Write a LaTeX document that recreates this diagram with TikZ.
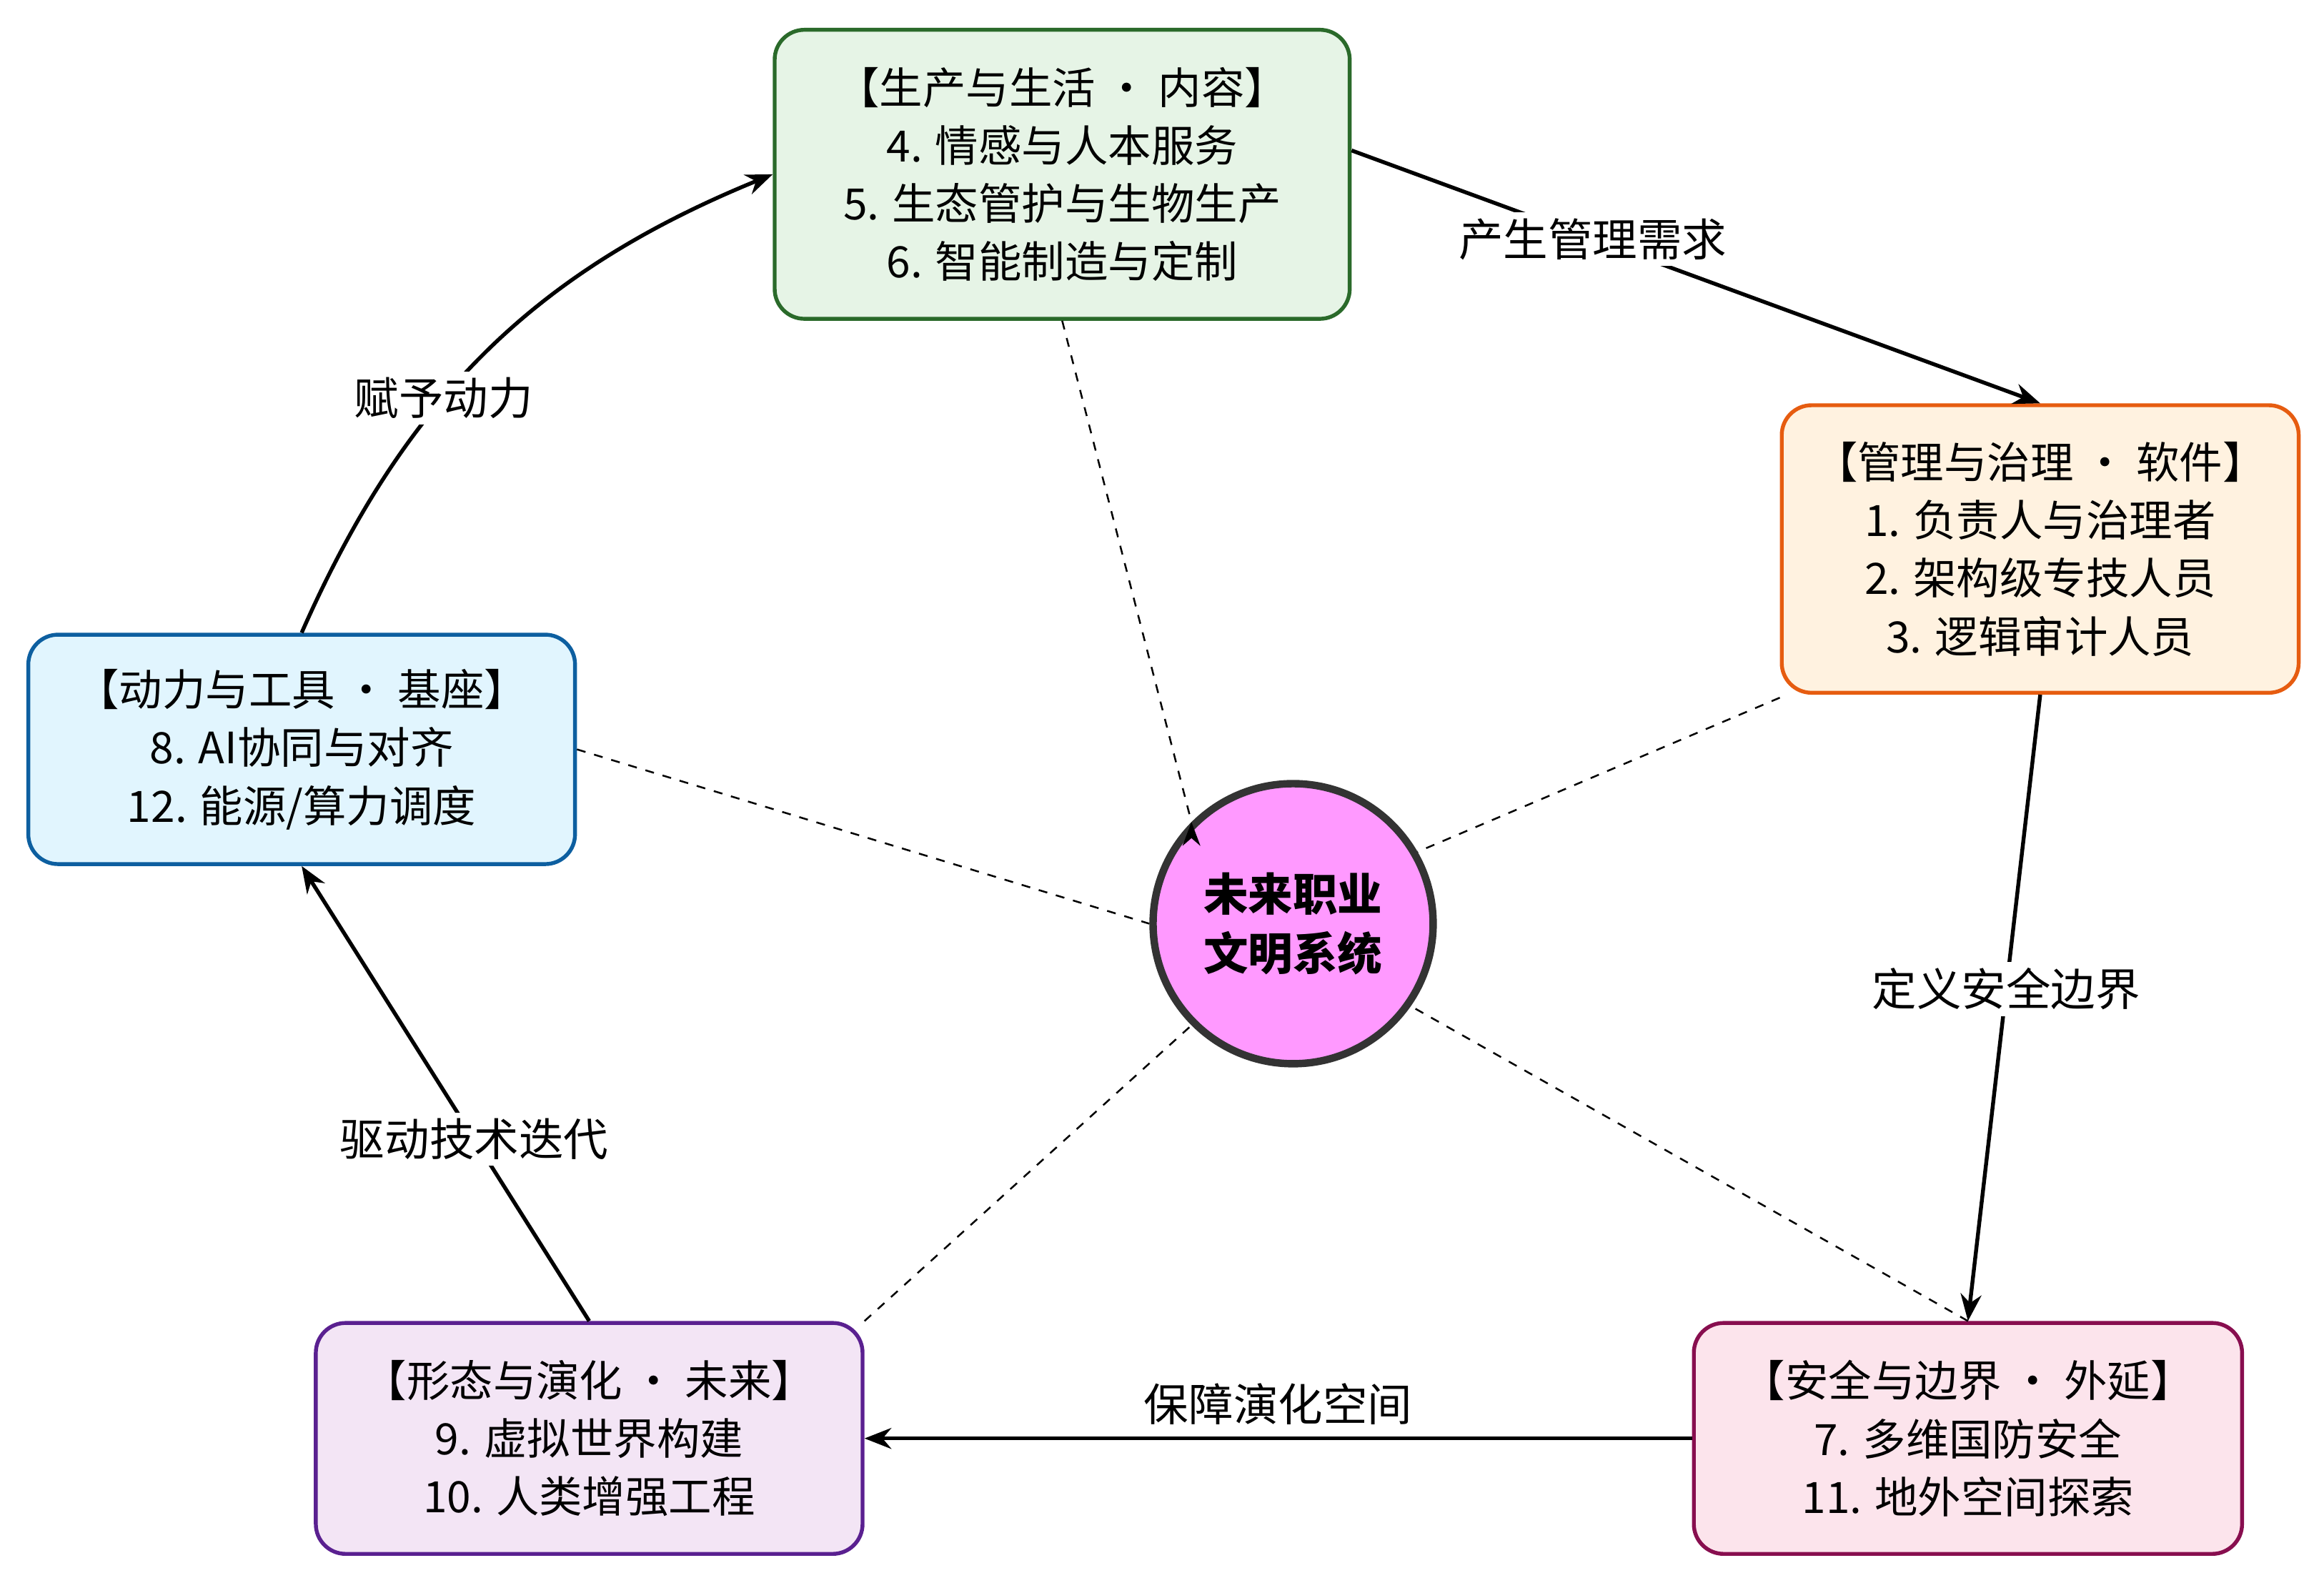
\documentclass[tikz,border=0pt]{standalone}
\usepackage{fontspec}
\setmainfont{Noto Sans CJK SC}
\usetikzlibrary{arrows.meta,calc}
\definecolor{gfill}{HTML}{E6F4E6}\definecolor{gdraw}{HTML}{2A6A2A}
\definecolor{ofill}{HTML}{FFF2E0}\definecolor{odraw}{HTML}{E65C10}
\definecolor{bfill}{HTML}{E1F5FE}\definecolor{bdraw}{HTML}{0D5FA0}
\definecolor{pufill}{HTML}{F3E5F5}\definecolor{pudraw}{HTML}{5A2090}
\definecolor{pkfill}{HTML}{FCE4EC}\definecolor{pkdraw}{HTML}{880E4F}
\definecolor{cfill}{HTML}{FF99FF}\definecolor{cdraw}{HTML}{333333}
\begin{document}
\begin{tikzpicture}[x=0.5pt,y=-0.5pt,
 box/.style={rectangle,rounded corners=10pt,line width=1.3pt,align=center,font=\fontsize{14.5}{19.5}\selectfont,inner sep=0pt},
 arr/.style={line width=1.3pt,-{Stealth[length=9pt,width=7pt]}},
 dsh/.style={dashed,line width=0.6pt},
 lab/.style={fill=white,font=\fontsize{15}{18}\selectfont,inner sep=2pt}]
\useasboundingbox (0,0) rectangle (1560,1059);
\node[box,fill=gfill,draw=gdraw,minimum width=193pt,minimum height=97pt] (g) at (713,117) {【生产与生活 · 内容】\\4. 情感与人本服务\\5. 生态管护与生物生产\\6. 智能制造与定制};
\node[box,fill=ofill,draw=odraw,minimum width=173.5pt,minimum height=96.5pt] (o) at (1369.5,368.5) {【管理与治理 · 软件】\\1. 负责人与治理者\\2. 架构级专技人员\\3. 逻辑审计人员};
\node[box,fill=bfill,draw=bdraw,minimum width=183.5pt,minimum height=77pt] (b) at (202.5,503) {【动力与工具 · 基座】\\8. AI协同与对齐\\12. 能源/算力调度};
\node[box,fill=pufill,draw=pudraw,minimum width=183.5pt,minimum height=77.5pt] (pu) at (395.5,965.5) {【形态与演化 · 未来】\\9. 虚拟世界构建\\10. 人类增强工程};
\node[box,fill=pkfill,draw=pkdraw,minimum width=184pt,minimum height=77.5pt] (pk) at (1321,965.5) {【安全与边界 · 外延】\\7. 多维国防安全\\11. 地外空间探索};
\node[circle,fill=cfill,draw=cdraw,line width=2.5pt,minimum size=94pt,align=center,font=\fontsize{15}{20}\selectfont\bfseries] (c) at (868,620) {未来职业\\文明系统};
% dashed
\draw[dsh,-{Stealth[length=8pt,width=6pt]}] (g.south) -- (c.north west) ++(0,0);
\draw[dsh] ([yshift=-1pt]o.south west) -- (c.30);
\draw[dsh] (b.east) -- (c.west);
\draw[dsh] (pu.north east) -- (c.225);
\draw[dsh] (pk.north) -- (c.325);
% arrows
\draw[arr] ([yshift=8pt]g.east) -- node[lab,pos=0.35]{产生管理需求} (o.north);
\draw[arr] (o.south) -- node[lab,pos=0.47]{定义安全边界} (pk.north);
\draw[arr] (pk.west) -- node[lab,fill=none,above=2pt]{保障演化空间} (pu.east);
\draw[arr] (pu.north) -- node[lab,pos=0.4]{驱动技术迭代} (b.south);
\draw[arr] (b.north) to[bend left=22] node[lab,pos=0.4]{赋予动力} (g.west);
\end{tikzpicture}
\end{document}
